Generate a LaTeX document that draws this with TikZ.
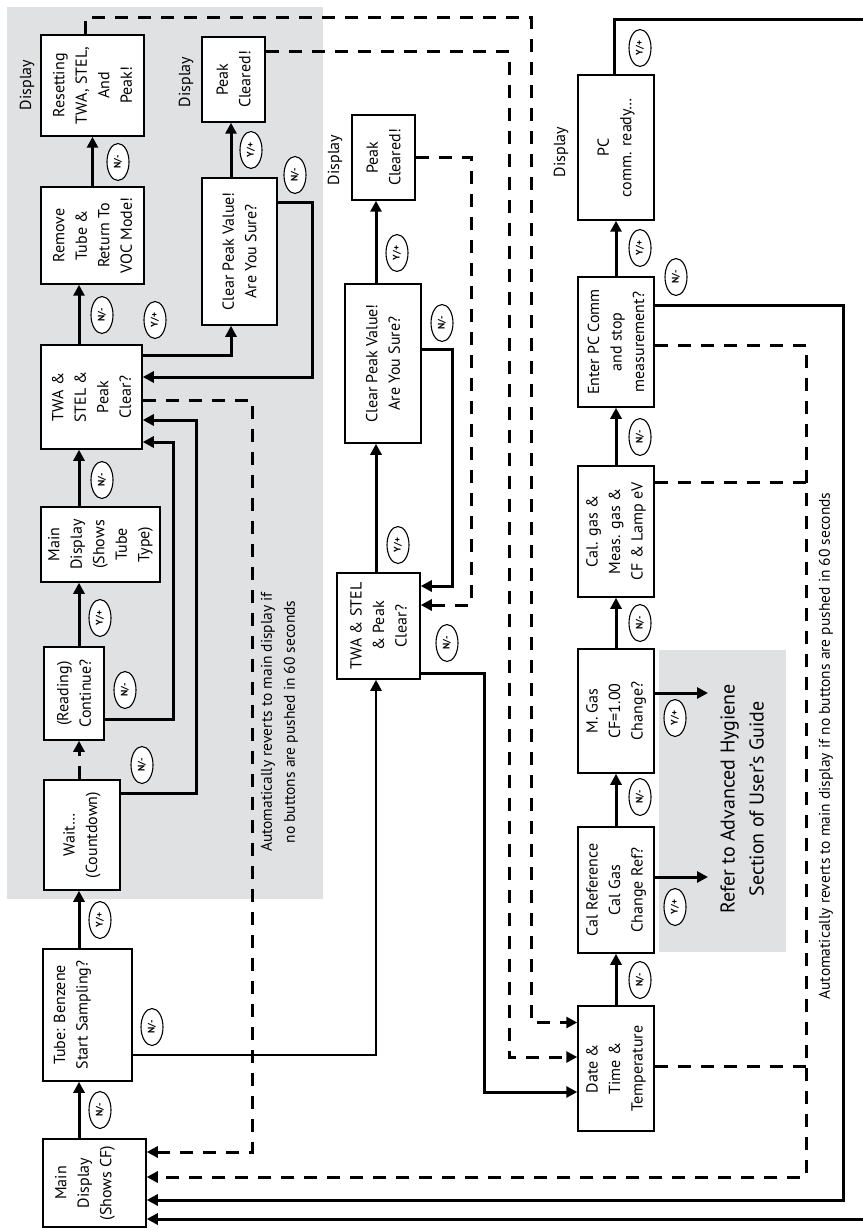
\documentclass[tikz,border=0pt]{standalone}
\usepackage{fontspec}
\setmainfont{PT Sans}
\usetikzlibrary{calc}
\usetikzlibrary{positioning}
\usetikzlibrary{arrows.meta}
\usetikzlibrary{shapes.geometric}
\definecolor{panel}{RGB}{224,225,227}
\newcommand{\scrfont}{\fontsize{16}{22.5}\selectfont}
\newcommand{\autofont}{\fontsize{15.5}{23}\selectfont}
\newcommand{\hygfont}{\fontsize{20}{29}\selectfont}
\newcommand{\btnfont}{\fontsize{9.5}{10}\selectfont\bfseries}

\begin{document}
\begin{tikzpicture}[
    x=1pt, y=-1pt,
    >={Triangle[length=11pt,width=11pt]},
    screen/.style={draw, line width=1.5pt, fill=white, rotate=90,
      align=center, inner sep=0pt, font=\scrfont},
    dims/.style 2 args={minimum width=#1, minimum height=#2},
    caption/.style={rotate=90, align=center, inner sep=0pt, font=\scrfont},
    btn/.style={draw, ellipse, line width=1.1pt, fill=white, rotate=90,
      minimum width=37pt, minimum height=22pt, inner sep=0pt, font=\btnfont},
    flow/.style={line width=3pt, ->},
    timeout/.style={line width=3pt, dash pattern=on 13pt off 10pt, ->},
  ]
  \useasboundingbox (0,0) rectangle (862,1230);

  % shaded areas
  \fill[panel] (7,7) rectangle (323,899);
  \node[fill=panel, dims={127pt}{302pt}, inner sep=0pt] (refer) at (722.5,801) {};
  \node[caption, font=\hygfont] (refertext) at (742,799)
    {Refer to Advanced Hygiene\\Section of User's Guide};

  % tube sampling column
  \node[screen, dims={88pt}{103pt}] (main) at (94.5,1183) {};
  \node[caption] (maintext) at (85,1183) {Main\\Display\\(Shows CF)};
  \node[screen, dims={132pt}{89pt}] (tube) at (87.5,1015) {};
  \node[caption] (tubetext) at (72.5,1015) {Tube: Benzene\\Start Sampling?};
  \node[screen, dims={110pt}{76pt}] (wait) at (82,835) {Wait…\\(Countdown)};
  \node[screen, dims={93pt}{60pt}] (reading) at (74,693.5) {(Reading)\\Continue?};
  \node[screen, dims={75pt}{119pt}] (maintube) at (100.5,544.5)
    {Main\\Display\\(Shows\\Tube\\Type)};
  \node[screen, dims={104pt}{101pt}] (twa1) at (91.5,397) {TWA \&\\STEL \&\\Peak\\Clear?};
  \node[screen, dims={97pt}{103pt}] (remove) at (92.5,235.5)
    {Remove\\Tube \&\\Return To\\VOC Mode!};
  \node[screen, dims={101pt}{103pt}] (reset) at (92.5,85.5)
    {Resetting\\TWA, STEL,\\And\\Peak!};
  \node[screen, dims={147pt}{75pt}] (clear1) at (239.5,251.5)
    {Clear Peak Value!\\Are You Sure?};
  \node[screen, dims={85pt}{63pt}] (cleared1) at (233.5,79.5) {Peak\\Cleared!};

  % peak clear column
  \node[screen, dims={106pt}{83pt}] (twa2) at (378.5,626) {TWA \& STEL\\\& Peak\\Clear?};
  \node[screen, dims={159pt}{76pt}] (clear2) at (383,363.5)
    {Clear Peak Value!\\Are You Sure?};
  \node[screen, dims={85pt}{63pt}] (cleared2) at (383.5,157.5) {Peak\\Cleared!};

  % settings column
  \node[screen, dims={125pt}{76pt}] (date) at (616,1068.5) {Date \&\\Time \&\\Temperature};
  \node[screen, dims={126pt}{76pt}] (calref) at (616,890) {Cal Reference\\Cal Gas\\Change Ref?};
  \node[screen, dims={124pt}{76pt}] (mgas) at (616,711) {M. Gas\\CF=1.00\\Change?};
  \node[screen, dims={131pt}{76pt}] (calgas) at (616,531.5)
    {Cal. gas \&\\Meas. gas \&\\CF \& Lamp eV};
  \node[screen, dims={130pt}{76pt}] (enterpc) at (616,342)
    {Enter PC Comm\\and stop\\measurement?};
  \node[screen, dims={145pt}{76pt}] (pccomm) at (616,147.5) {PC\\comm. ready…};

  \node[caption] (disp1) at (27,85) {Display};
  \node[caption] (disp2) at (186,82) {Display};
  \node[caption] (disp3) at (335,160) {Display};
  \node[caption] (disp4) at (561,152) {Display};

  \node[caption, font=\autofont] (auto1) at (279.5,722)
    {Automatically reverts to main display if\\no buttons are pushed in 60 seconds};
  \node[caption, font=\autofont] (auto2) at (826,746)
    {Automatically reverts to main display if no buttons are pushed in 60 seconds};

  \coordinate (colA) at (79,0);
  \coordinate (colB) at (376,0);
  \coordinate (colD) at (231,0);
  \coordinate (hygA) at (708,877);
  \coordinate (hygB) at (708,693);

  % main flow
  \draw[flow] (main.east -| colA) -- (tube.west -| colA);
  \draw[flow] (tube.east -| colA) -- (wait.west -| colA);
  \draw[timeout] (wait.east -| colA) -- (reading.west -| colA);
  \draw[flow] (reading.east -| colA) -- (maintube.west -| colA);
  \draw[flow] (maintube.east -| colA) -- (twa1.west -| colA);
  \draw[flow] (twa1.east -| colA) -- (remove.west -| colA);
  \draw[flow] (remove.east) -- (reset.west);
  \draw[flow] ($(twa1.south)+(0,-42)$) -| (clear1.west -| colD);
  \draw[flow] (clear1.east -| colD) -- (cleared1.west -| colD);
  \draw[flow] ($(clear1.south)+(0,-48.5)$) -- (312,203) |- ($(twa1.south)+(0,-20)$);
  \draw[flow] ($(wait.south)+(0,-42)$) -- (196,793) |- ($(twa1.south)+(0,23)$);
  \draw[flow] ($(reading.south)+(0,25.5)$) -- (173,719) |- ($(twa1.south)+(0,45)$);
  \draw[timeout] ($(twa1.south)+(0,3)$) -- (252,400) |- ($(main.south)+(0,-31)$);
  \draw[timeout] ($(reset.east)+(-7,0)$) |- (531,18) |- ($(date.north)+(0,-46)$);
  \draw[timeout] ($(cleared1.south)+(0,-27.5)$) -- (509,52) |- ($(date.north)+(0,-11.5)$);

  % peak clear loop
  \draw[flow, line width=2.4pt] ($(tube.south)+(0,40)$) -| (twa2.west -| colB);
  \draw[flow] (twa2.east -| colB) -- (clear2.west -| colB);
  \draw[flow] (clear2.east -| colB) -- (cleared2.west -| colB);
  \draw[flow] ($(clear2.south)+(0,-14.5)$) -- (452,349) |- ($(twa2.south)+(0,-40)$);
  \draw[timeout] (cleared2.south) -- (471,157.5) |- ($(twa2.south)+(0,-21)$);
  \draw[flow] ($(twa2.south)+(0,47)$) -- (484,673) |- ($(date.north)+(0,23.5)$);

  % settings flow
  \draw[flow] (date.east) -- (calref.west);
  \draw[flow] (calref.east) -- (mgas.west);
  \draw[flow] (mgas.east) -- (calgas.west);
  \draw[flow] (calgas.east) -- (enterpc.west);
  \draw[flow] (enterpc.east) -- (pccomm.west);
  \draw[flow] (calref.south |- hygA) -- (hygA);
  \draw[flow] (mgas.south |- hygB) -- (hygB);
  \draw[timeout] ($(enterpc.south)+(0,3)$) -- (806,345) |- ($(main.south)+(0,-6)$);
  \draw[timeout, -] ($(calgas.south)+(0,-49.5)$) -- (806,482);
  \draw[timeout, -] ($(date.south)+(0,-2.5)$) -- (806,1066);
  \draw[flow] ($(enterpc.south)+(0,-37)$) -- (843,305) |- ($(main.south)+(0,17)$);
  \draw[flow] ($(pccomm.east)+(-2,0)$) |- (866,20) |- ($(main.south)+(0,36)$);

  % key presses
  \foreach \x/\y [count=\i] in {100/1110, 152/1027, 142/765, 125/690, 102/480,
      102/315, 118/162, 295/175, 442/323, 447/643, 640/980, 640/797, 640/623,
      640/437, 676/277}
    \node[btn] (no\i) at (\x,\y) {N/-};
  \foreach \x/\y [count=\i] in {100/920, 100/618, 155/320, 251/150, 398/545,
      397/253, 675/907, 675/718, 640/248, 640/48}
    \node[btn] (yes\i) at (\x,\y) {Y/+};
\end{tikzpicture}
\end{document}
